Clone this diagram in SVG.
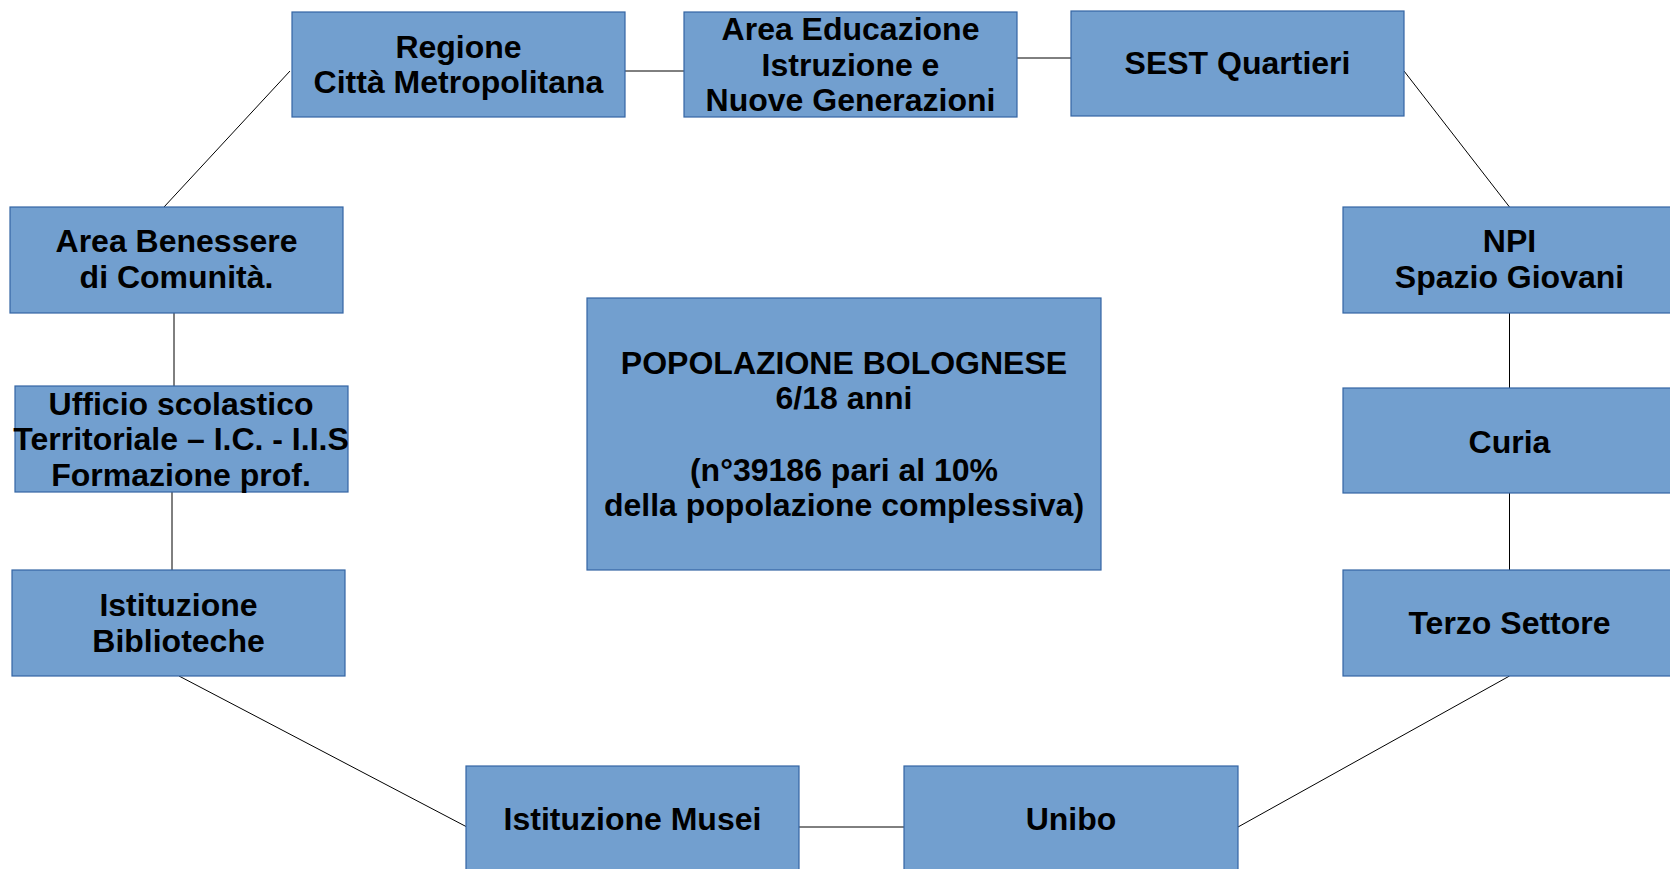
<svg xmlns="http://www.w3.org/2000/svg" width="1670" height="869" viewBox="0 0 1670 869">
<style>
.box{fill:#729fcf;stroke:#3465a4;stroke-width:1.2}
.t{font-family:"Liberation Sans",Arial,sans-serif;font-weight:bold;font-size:32px;fill:#000;text-anchor:middle}
.c line{stroke:#000;stroke-width:1}
</style>
<rect width="1670" height="869" fill="#fff"/>
<g class="c" id="connectors">
<line x1="625" y1="71" x2="684" y2="71"/>
<line x1="1017" y1="58" x2="1071" y2="58"/>
<line x1="290" y1="71" x2="164" y2="207"/>
<line x1="1404" y1="71" x2="1509.5" y2="207"/>
<line x1="174" y1="313" x2="174" y2="386"/>
<line x1="172" y1="492" x2="172" y2="570"/>
<line x1="179" y1="676" x2="466" y2="826.5"/>
<line x1="799" y1="827" x2="904" y2="827"/>
<line x1="1238" y1="827" x2="1509.5" y2="676"/>
<line x1="1509.5" y1="313" x2="1509.5" y2="388"/>
<line x1="1509.5" y1="493" x2="1509.5" y2="570"/>
</g>
<g id="regione"><rect class="box" x="292" y="12" width="333" height="105"/>
<text class="t" x="458.5" y="58">Regione</text><text class="t" x="458.5" y="93">Città Metropolitana</text></g>
<g id="area-educazione"><rect class="box" x="684" y="12" width="333" height="105"/>
<text class="t" x="850.5" y="40">Area Educazione</text><text class="t" x="850.5" y="75.5">Istruzione e</text><text class="t" x="850.5" y="111">Nuove Generazioni</text></g>
<g id="sest"><rect class="box" x="1071" y="11" width="333" height="105"/>
<text class="t" x="1237.5" y="74">SEST Quartieri</text></g>
<g id="npi"><rect class="box" x="1343" y="207" width="333" height="106"/>
<text class="t" x="1509.5" y="252">NPI</text><text class="t" x="1509.5" y="288">Spazio Giovani</text></g>
<g id="curia"><rect class="box" x="1343" y="388" width="333" height="105"/>
<text class="t" x="1509.5" y="453">Curia</text></g>
<g id="terzo-settore"><rect class="box" x="1343" y="570" width="333" height="106"/>
<text class="t" x="1509.5" y="634">Terzo Settore</text></g>
<g id="area-benessere"><rect class="box" x="10" y="207" width="333" height="106"/>
<text class="t" x="176.5" y="252">Area Benessere</text><text class="t" x="176.5" y="288">di Comunità.</text></g>
<g id="ufficio-scolastico"><rect class="box" x="15" y="386" width="333" height="106"/>
<text class="t" x="181" y="415">Ufficio scolastico</text><text class="t" x="181" y="450">Territoriale – I.C. - I.I.S</text><text class="t" x="181" y="486">Formazione prof.</text></g>
<g id="biblioteche"><rect class="box" x="12" y="570" width="333" height="106"/>
<text class="t" x="178.5" y="616">Istituzione</text><text class="t" x="178.5" y="652">Biblioteche</text></g>
<g id="musei"><rect class="box" x="466" y="766" width="333" height="106"/>
<text class="t" x="632.5" y="830">Istituzione Musei</text></g>
<g id="unibo"><rect class="box" x="904" y="766" width="334" height="106"/>
<text class="t" x="1071" y="830">Unibo</text></g>
<g id="popolazione"><rect class="box" x="587" y="298" width="514" height="272"/>
<text class="t" x="844" y="374">POPOLAZIONE BOLOGNESE</text><text class="t" x="844" y="409">6/18 anni</text><text class="t" x="844" y="481">(n°39186 pari al 10%</text><text class="t" x="844" y="516">della popolazione complessiva)</text></g>
</svg>
